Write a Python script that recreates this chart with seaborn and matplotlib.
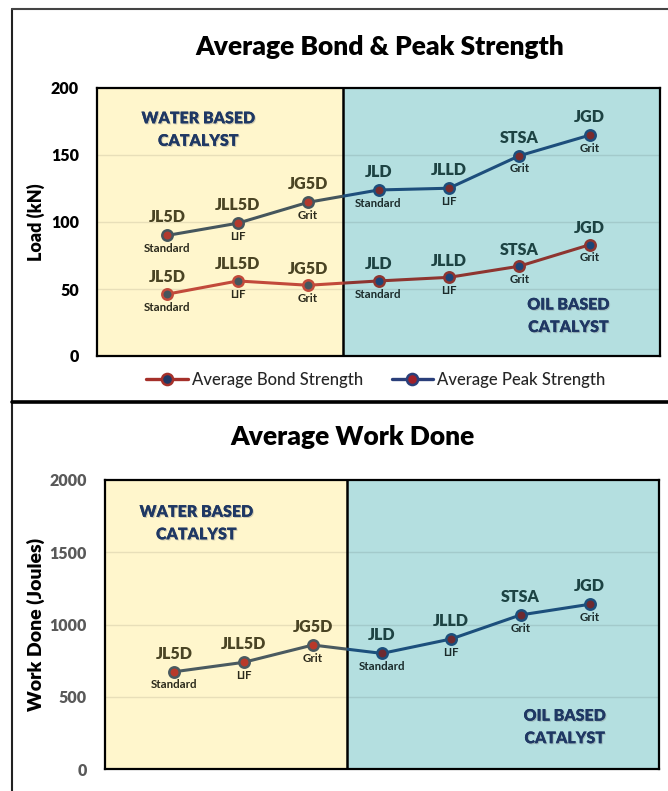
import numpy as np
import pandas as pd
import matplotlib
matplotlib.use("Agg")
import matplotlib.pyplot as plt
import seaborn as sns
from matplotlib.patches import Rectangle
from matplotlib.lines import Line2D
import matplotlib.patheffects as pe

# ---------------- data ----------------
categories = ["JL5D", "JLL5D", "JG5D", "JLD", "JLLD", "STSA", "JGD"]
sublabels = ["Standard", "LIF", "Grit", "Standard", "LIF", "Grit", "Grit"]
bond_strength = [46.2, 56.0, 52.8, 56.0, 58.7, 67.0, 83.0]
peak_strength = [90.0, 99.1, 114.7, 123.9, 125.2, 149.4, 164.8]
work_done = [673, 738, 858, 800, 900, 1066, 1140]
load_ticks = [0, 50, 100, 150, 200]
work_ticks = [0, 500, 1000, 1500, 2000]

sns.set_theme(style="white")
plt.rcParams["font.family"] = ["Lato", "DejaVu Sans"]

W, H = 668, 791
fig = plt.figure(figsize=(W / 100, H / 100), dpi=100)

YELLOW = "#FFF6CC"
TEAL = "#B4DFE0"
BOUND = 2.5
XMIN, XMAX = -1.0, 7.0

pos = np.arange(len(categories))


def setup_axes(ax, ticks, ylabel, ylabel_size, tick_color, ylabel_coords):
    ax.set_xlim(XMIN, XMAX)
    ax.set_ylim(ticks[0], ticks[-1])
    ax.axvspan(XMIN, BOUND, color=YELLOW, zorder=0, lw=0)
    ax.axvspan(BOUND, XMAX, color=TEAL, zorder=0, lw=0)
    for t in ticks[1:-1]:
        ax.axhline(t, color=(0, 0, 0, 0.09), lw=1.0, zorder=1)
    ax.axvline(BOUND, color="black", lw=1.8, zorder=3)
    ax.set_xticks([])
    ax.set_yticks(ticks)
    ax.tick_params(axis="y", length=0, pad=13, labelsize=11.5, labelcolor=tick_color)
    for lbl in ax.get_yticklabels():
        lbl.set_fontweight("heavy")
    ax.set_ylabel(ylabel, fontsize=ylabel_size, fontweight="heavy", color="black")
    ax.yaxis.set_label_coords(*ylabel_coords)
    for s in ax.spines.values():
        s.set_visible(True)
        s.set_color("black")
        s.set_linewidth(1.6)
        s.set_zorder(6)


def draw_series(ax, values, water_style, oil_style):
    for (x0, x1), (line_c, face_c) in (((XMIN, BOUND), water_style), ((BOUND, XMAX), oil_style)):
        n_before = len(ax.lines)
        sns.lineplot(x=pos, y=values, ax=ax, color=line_c, lw=2.2, marker="o",
                     markersize=7.5, markerfacecolor=face_c, markeredgecolor=line_c,
                     markeredgewidth=1.8, legend=False, zorder=4)
        clip = Rectangle((x0, -1e6), x1 - x0, 2e6, transform=ax.transData)
        for ln in ax.lines[n_before:]:
            ln.set_clip_path(clip)


def draw_labels(ax, values, top_off=13, bot_off=-9.5):
    for x, v, name, sub in zip(pos, values, categories, sublabels):
        col = "#4A4424" if x < BOUND else "#1D4343"
        scol = "#2B2A1C" if x < BOUND else "#1B2B2B"
        ax.annotate(name, (x, v), xytext=(0, top_off), textcoords="offset points",
                    ha="center", va="center", fontsize=11.5, fontweight="heavy",
                    color=col, zorder=5)
        ax.annotate(sub, (x, v), xytext=(0, bot_off), textcoords="offset points",
                    ha="center", va="center", fontsize=8.3, fontweight="bold",
                    color=scol, zorder=5)


shadow = [pe.withSimplePatchShadow(offset=(0.8, -0.8), shadow_rgbFace="#777777", alpha=0.35), pe.Normal()]


def region_text(ax, x, y, txt):
    ax.text(x, y, txt, ha="center", va="center", fontsize=11.5, fontweight="heavy",
            color="#1F3864", linespacing=1.5, zorder=5, path_effects=shadow)


# ---------------- top panel ----------------
ax1 = fig.add_axes([97 / W, 1 - 356 / H, (660 - 97) / W, (356 - 88) / H])
setup_axes(ax1, load_ticks, "Load (kN)", 13, "black", (-0.092, 0.5))
draw_series(ax1, peak_strength, ("#45565D", "#B23A2E"), ("#1D4E7C", "#7A2B2D"))
draw_series(ax1, bond_strength, ("#C24A3B", "#45565D"), ("#8E3530", "#1C4578"))
draw_labels(ax1, peak_strength)
draw_labels(ax1, bond_strength, top_off=12)
region_text(ax1, 0.44, 169, "WATER BASED\nCATALYST")
region_text(ax1, 5.7, 30, "OIL BASED\nCATALYST")

fig.text(380 / W, 1 - 47 / H, "Average Bond & Peak Strength", ha="center", va="center",
         fontsize=19, fontweight="heavy", color="black")

handles = [
    Line2D([], [], color="#A5302A", lw=2.4, marker="o", markersize=8,
           markerfacecolor="#1F3864", markeredgecolor="#A5302A", markeredgewidth=1.8),
    Line2D([], [], color="#2A3F7A", lw=2.4, marker="o", markersize=8,
           markerfacecolor="#A0202A", markeredgecolor="#2A3F7A", markeredgewidth=1.8),
]
fig.legend(handles, ["Average Bond Strength", "Average Peak Strength"], ncol=2,
           loc="center", bbox_to_anchor=(376 / W, 1 - 380 / H), frameon=False,
           prop={"size": 12, "weight": "medium"}, handlelength=2.5,
           handletextpad=0.25, columnspacing=1.7)

# ---------------- bottom panel ----------------
ax2 = fig.add_axes([105 / W, 1 - 769 / H, (659 - 105) / W, (769 - 480) / H])
setup_axes(ax2, work_ticks, "Work Done (Joules)", 14, "#595959", (-0.108, 0.5))
draw_series(ax2, work_done, ("#4A5A60", "#B8392A"), ("#1C4F7C", "#6E2A30"))
draw_labels(ax2, work_done)
region_text(ax2, 0.32, 1702, "WATER BASED\nCATALYST")
region_text(ax2, 5.64, 291, "OIL BASED\nCATALYST")

fig.text(352 / W, 1 - 437 / H, "Average Work Done", ha="center", va="center",
         fontsize=19, fontweight="heavy", color="black")

# ---------------- frame lines ----------------
fig.add_artist(Line2D([12 / W, 12 / W], [0, 1 - 9 / H], transform=fig.transFigure,
                      color="#222222", lw=1.5))
fig.add_artist(Line2D([12 / W, 1], [1 - 9 / H, 1 - 9 / H], transform=fig.transFigure,
                      color="#444444", lw=1.5))
fig.add_artist(Line2D([12 / W, 1], [1 - 401.5 / H, 1 - 401.5 / H], transform=fig.transFigure,
                      color="black", lw=2.6))

fig.savefig("out.png", dpi=100)
